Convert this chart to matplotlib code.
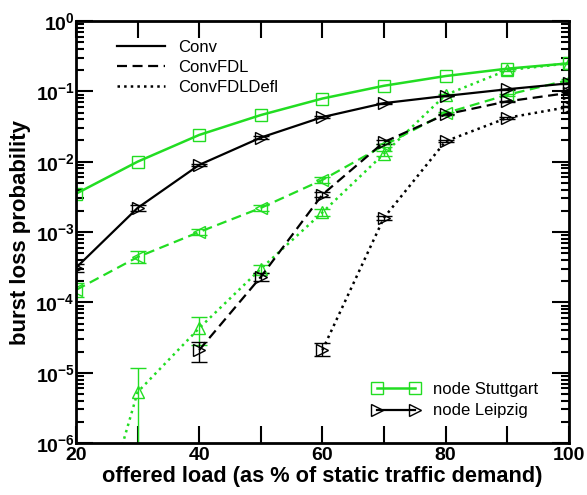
import numpy as np
import matplotlib
matplotlib.use("Agg")
import matplotlib.pyplot as plt
from matplotlib.lines import Line2D

plt.rcParams['font.family'] = ['Liberation Sans', 'DejaVu Sans']
plt.rcParams['mathtext.fontset'] = 'custom'
plt.rcParams['mathtext.rm'] = 'Liberation Sans:bold'
plt.rcParams['mathtext.bf'] = 'Liberation Sans:bold'
plt.rcParams['mathtext.default'] = 'bf'

#-------- data --------
load = [20, 30, 40, 50, 60, 70, 80, 90, 100]

stg_conv = [3.5e-3, 1.0e-2, 2.4e-2, 4.6e-2, 7.9e-2, 0.12, 0.165, 0.21, 0.25]
stg_fdl = [1.5e-4, 4.4e-4, 1.0e-3, 2.2e-3, 5.5e-3, 1.7e-2, 4.9e-2, 0.089, 0.145]
stg_defl = [5e-9, 5.3e-6, 4.3e-5, 3.0e-4, 1.9e-3, 1.3e-2, 0.089, 0.2, 0.25]

lpz_conv = [3.1e-4, 2.2e-3, 9.0e-3, 2.2e-2, 4.3e-2, 6.8e-2, 0.086, 0.107, 0.13]
lpz_fdl_x = [40, 50, 60, 70, 80, 90, 100]
lpz_fdl = [2.1e-5, 2.3e-4, 3.4e-3, 1.9e-2, 4.7e-2, 0.072, 0.095]
lpz_defl_x = [60, 70, 80, 90, 100]
lpz_defl = [2.1e-5, 1.6e-3, 1.95e-2, 0.042, 0.06]

# error bars (lower, upper bound) for the points that show them
stg_fdl_lo = [1.2e-4, 3.6e-4, 9.2e-4, 2.0e-3, 5.0e-3, 1.6e-2, 4.7e-2, 0.086, 0.14]
stg_fdl_hi = [1.9e-4, 5.4e-4, 1.1e-3, 2.4e-3, 6.0e-3, 1.8e-2, 5.1e-2, 0.092, 0.15]
stg_defl_lo = [1e-9, 1e-7, 2.5e-5, 2.6e-4, 1.7e-3, 1.2e-2, 0.086, 0.195, 0.245]
stg_defl_hi = [1e-8, 1.15e-5, 6.2e-5, 3.4e-4, 2.1e-3, 1.4e-2, 0.092, 0.205, 0.255]
lpz_conv_lo = [2.7e-4, 2.0e-3, 8.6e-3, 2.1e-2, 4.2e-2, 6.7e-2, 0.085, 0.105, 0.128]
lpz_conv_hi = [3.5e-4, 2.4e-3, 9.4e-3, 2.3e-2, 4.4e-2, 6.9e-2, 0.087, 0.109, 0.132]
lpz_fdl_lo = [1.4e-5, 2.0e-4, 3.1e-3, 1.8e-2, 4.6e-2, 0.070, 0.093]
lpz_fdl_hi = [2.7e-5, 2.6e-4, 3.7e-3, 2.0e-2, 4.8e-2, 0.074, 0.097]
lpz_defl_lo = [1.7e-5, 1.5e-3, 1.9e-2, 0.041, 0.059]
lpz_defl_hi = [2.6e-5, 1.7e-3, 2.0e-2, 0.043, 0.061]

green = '#22dd22'
DASH = (4.5, 2.5)

fig = plt.figure(figsize=(5.87, 4.95), dpi=100)
ax = fig.add_axes([0.1295, 0.105, 0.8395, 0.8526])


def plot_series(x, y, lo, hi, color, ls, marker, lw=1.6):
    y = np.array(y)
    err = [y - np.array(lo), np.array(hi) - y]
    line = ax.errorbar(x, y, yerr=err, color=color, ls=ls, lw=lw, marker=marker,
                       ms=9, mfc='none', mec=color, mew=1.0, capsize=6,
                       elinewidth=1.0, capthick=1.0)
    if ls == '--':
        line[0].set_dashes(DASH)


ax.errorbar(load, stg_conv, color=green, lw=1.8, marker='s', ms=9, mfc='none', mew=1.0)
plot_series(load, stg_fdl, stg_fdl_lo, stg_fdl_hi, green, '--', '<')
plot_series(load, stg_defl, stg_defl_lo, stg_defl_hi, green, ':', '^', lw=1.8)

plot_series(load, lpz_conv, lpz_conv_lo, lpz_conv_hi, 'black', '-', '>')
plot_series(lpz_fdl_x, lpz_fdl, lpz_fdl_lo, lpz_fdl_hi, 'black', '--', '>')
plot_series(lpz_defl_x, lpz_defl, lpz_defl_lo, lpz_defl_hi, 'black', ':', '>', lw=1.8)

ax.set_yscale('log')
ax.set_xlim(20, 100)
ax.set_ylim(1e-6, 1)
ax.set_xticks([20, 40, 60, 80, 100])
ax.set_xticks([30, 50, 70, 90], minor=True)
ax.set_yticks([10.0 ** k for k in range(-6, 1)])
ax.set_yticklabels([r'$10^{%d}$' % k for k in range(-6, 1)])
ax.tick_params(which='both', direction='in', top=True, right=True, width=1.5)
ax.tick_params(which='major', length=12, labelsize=14)
ax.tick_params(axis='x', which='major', pad=3)
ax.tick_params(axis='y', which='major', pad=1)
ax.tick_params(axis='x', which='minor', length=12)
ax.tick_params(axis='y', which='minor', length=6)
for lab in ax.get_xticklabels():
    lab.set_fontweight('bold')
for sp in ax.spines.values():
    sp.set_linewidth(2)

ax.set_xlabel('offered load (as % of static traffic demand)', fontsize=15.7,
              fontweight='bold', labelpad=1)
ax.set_ylabel('burst loss probability', fontsize=16, fontweight='bold', labelpad=3)

style_handles = [Line2D([], [], color='black', ls='-', lw=1.6),
                 Line2D([], [], color='black', ls='--', lw=1.6, dashes=DASH),
                 Line2D([], [], color='black', ls=':', lw=1.8)]
leg1 = ax.legend(style_handles, ['Conv', 'ConvFDL', 'ConvFDLDefl'], loc='upper left',
                 frameon=False, fontsize=12, handlelength=2.9, borderpad=0,
                 borderaxespad=0, labelspacing=0.3, handletextpad=0.8,
                 bbox_to_anchor=(0.083, 0.955))
ax.add_artist(leg1)

node_handles = [Line2D([], [], color=green, lw=1.8, marker='s', ms=9, mfc='none', mew=1.0),
                Line2D([], [], color='black', lw=1.6, marker='>', ms=9, mfc='none', mew=1.0)]
ax.legend(node_handles, ['node Stuttgart', 'node Leipzig'], loc='upper left',
          frameon=False, fontsize=12, numpoints=2, handlelength=2.9, borderpad=0,
          borderaxespad=0, labelspacing=0.4, handletextpad=0.8,
          bbox_to_anchor=(0.600, 0.145))

fig.savefig('out.png', dpi=100)
